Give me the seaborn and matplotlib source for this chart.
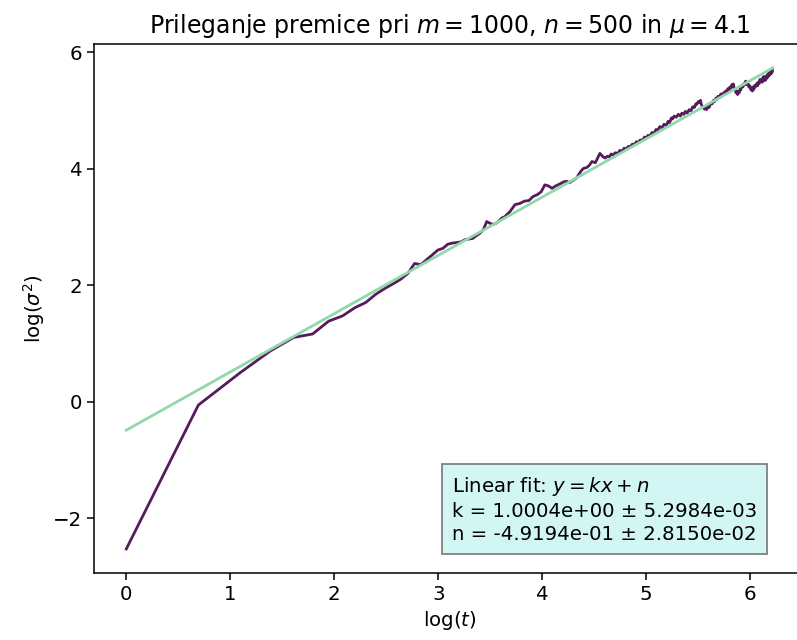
import numpy as np
import pandas as pd
import matplotlib
matplotlib.use("Agg")
import matplotlib.pyplot as plt
import seaborn as sns

# time steps and measured log-variance at those steps
t_steps = [1, 2, 3, 4, 5, 6, 7, 8, 9, 10,
           11, 12, 13, 14, 15, 16, 17, 18, 19, 20,
           21, 22, 23, 24, 25, 26, 27, 28, 29, 30,
           31, 32, 33, 34, 35, 36, 37, 38, 40, 42,
           44, 46, 48, 50, 52, 54, 56, 58, 60, 62,
           65, 67, 69, 71, 73, 76, 79, 81, 84, 86,
           88, 91, 93, 95, 98, 100, 102, 104, 106, 108,
           110, 113, 115, 118, 120, 122, 125, 127, 130, 132,
           135, 138, 140, 143, 146, 148, 151, 154, 157, 160,
           163, 166, 169, 173, 176, 180, 183, 186, 189, 191,
           194, 198, 202, 206, 209, 213, 216, 220, 224, 228,
           232, 236, 239, 241, 245, 248, 250, 252, 254, 256,
           258, 260, 263, 265, 268, 272, 276, 280, 283, 286,
           290, 293, 296, 300, 304, 308, 312, 315, 318, 322,
           325, 328, 332, 335, 338, 340, 343, 345, 348, 350,
           352, 354, 357, 360, 363, 366, 368, 372, 376, 380,
           384, 386, 388, 392, 395, 398, 402, 406, 410, 412,
           414, 418, 422, 426, 430, 433, 435, 440, 443, 445,
           450, 453, 455, 458, 460, 463, 465, 468, 470, 473,
           475, 478, 480, 483, 485, 488, 490, 493, 495, 498,
           500]
log_var = [-2.53, -0.06, 0.50, 0.87, 1.10, 1.16, 1.38, 1.47, 1.61, 1.70,
           1.84, 1.94, 2.02, 2.10, 2.20, 2.37, 2.35, 2.44, 2.52, 2.60,
           2.63, 2.70, 2.72, 2.73, 2.74, 2.78, 2.79, 2.80, 2.85, 2.89,
           2.95, 3.09, 3.06, 3.04, 3.06, 3.10, 3.15, 3.17, 3.26, 3.38,
           3.40, 3.44, 3.45, 3.52, 3.55, 3.60, 3.72, 3.70, 3.66, 3.70,
           3.74, 3.77, 3.78, 3.76, 3.79, 3.84, 3.95, 4.00, 4.02, 4.06,
           4.12, 4.10, 4.18, 4.26, 4.20, 4.18, 4.21, 4.20, 4.25, 4.23,
           4.27, 4.26, 4.31, 4.30, 4.35, 4.33, 4.38, 4.37, 4.42, 4.40,
           4.46, 4.45, 4.49, 4.48, 4.54, 4.52, 4.57, 4.56, 4.62, 4.60,
           4.67, 4.66, 4.72, 4.70, 4.76, 4.74, 4.81, 4.79, 4.87, 4.85,
           4.90, 4.88, 4.93, 4.90, 4.95, 4.93, 4.98, 4.95, 5.01, 4.99,
           5.06, 5.05, 5.11, 5.10, 5.15, 5.13, 5.17, 5.10, 5.07, 5.04,
           5.06, 5.02, 5.05, 5.01, 5.06, 5.05, 5.12, 5.11, 5.17, 5.15,
           5.21, 5.19, 5.24, 5.22, 5.28, 5.26, 5.30, 5.27, 5.33, 5.31,
           5.37, 5.35, 5.40, 5.38, 5.44, 5.42, 5.45, 5.39, 5.37, 5.34,
           5.30, 5.33, 5.27, 5.32, 5.30, 5.37, 5.35, 5.43, 5.40, 5.46,
           5.44, 5.50, 5.47, 5.44, 5.46, 5.40, 5.42, 5.35, 5.38, 5.33,
           5.40, 5.36, 5.43, 5.41, 5.46, 5.42, 5.48, 5.46, 5.53, 5.49,
           5.52, 5.48, 5.56, 5.53, 5.58, 5.51, 5.55, 5.52, 5.58, 5.55,
           5.61, 5.57, 5.63, 5.59, 5.64, 5.61, 5.66, 5.63, 5.68, 5.65,
           5.72]

# fitted line parameters y = k x + n
k_fit, k_err = 1.0004e+00, 5.2984e-03
n_fit, n_err = -4.9194e-01, 2.8150e-02

data = pd.DataFrame({"logt": np.log(t_steps), "logvar": log_var})
fit = pd.DataFrame({"logt": [0.0, np.log(t_steps[-1])]})
fit["logvar"] = k_fit * fit["logt"] + n_fit

fig = plt.figure(figsize=(7.97, 6.40), dpi=100)
ax = fig.add_axes([0.1179, 0.1047, 0.892, 0.8266])

sns.lineplot(data=data, x="logt", y="logvar", ax=ax, color="#561b5b",
             linewidth=2.0, sort=False, estimator=None)
sns.lineplot(data=fit, x="logt", y="logvar", ax=ax, color="#8fd9aa",
             linewidth=2.0, sort=False, estimator=None)

ax.set_title(r"Prileganje premice pri $m = 1000$, $n = 500$ in $\mu = 4.1$",
             fontsize=17, pad=8)
ax.set_xlabel(r"$\log(t)$", fontsize=14.2)
ax.set_ylabel(r"$\log(\sigma^2)$", fontsize=14.2)
ax.tick_params(labelsize=14.2, length=5, width=1.1)
for s in ax.spines.values():
    s.set_linewidth(1.1)
ax.set_xticks([0, 1, 2, 3, 4, 5, 6])
ax.set_yticks([-2, 0, 2, 4, 6])

label = (r"Linear fit: $y = kx + n$" + "\n"
         + f"k = {k_fit:.4e} ± {k_err:.4e}\n"
         + f"n = {n_fit:.4e} ± {n_err:.4e}")
ax.text(0.503, 0.055, label, transform=ax.transAxes, fontsize=14.2,
        ha="left", va="bottom", linespacing=1.25,
        bbox=dict(boxstyle="square,pad=0.5", facecolor="#d2f6f4",
                  edgecolor="#808080", linewidth=1.3))

fig.savefig("out.png", dpi=100)
